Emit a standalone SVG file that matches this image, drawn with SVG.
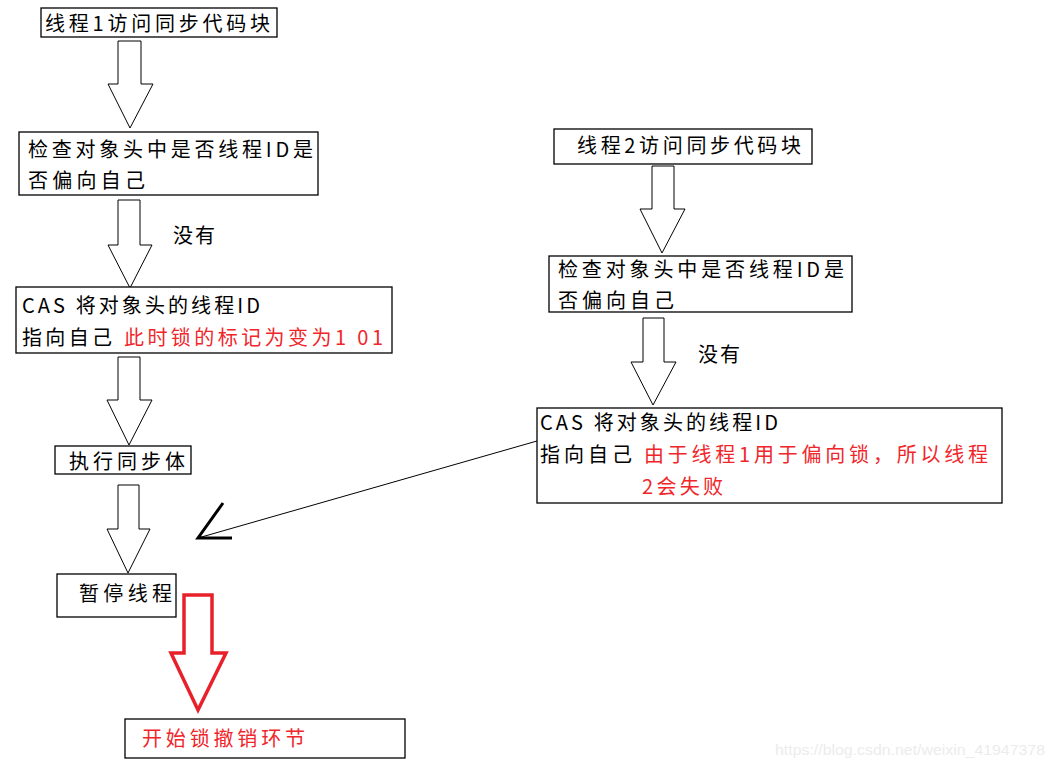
<svg xmlns="http://www.w3.org/2000/svg" width="1055" height="769" viewBox="0 0 1055 769">
<style>
.box{fill:#fff;stroke:#000;stroke-width:1.3}
.t{font-family:"Noto Sans CJK SC","Liberation Sans",sans-serif;font-size:20px;fill:#000}
.r{fill:#f0262b}
.arr{fill:#fff;stroke:#000;stroke-width:1}
.rarr{fill:none;stroke:#e8202a;stroke-width:3.5}
.wm{font-family:"Liberation Sans",Arial,sans-serif;font-size:15px;fill:#ececec}
</style>
<rect width="1055" height="769" fill="#fff"/>
<g id="connectors">
<polygon class="arr" points="118,41 141,41 141,84 153,84 130,128 108,84 118,84"/>
<polygon class="arr" points="118,200 140,200 140,245 152,245 130,288 108,245 118,245"/>
<polygon class="arr" points="118,357 140,357 140,400 152,400 129,445 107,400 118,400"/>
<polygon class="arr" points="118,485 139,485 139,529 150,529 128,573 107,529 118,529"/>
<polygon class="rarr" points="184,595 212,595 212,653 226,653 198,710 171,653 184,653"/>
<polygon class="arr" points="652,166 674,166 674,209 685,209 662,253 640,209 652,209"/>
<polygon class="arr" points="643,318 664,318 664,362 676,362 653,405 631,362 643,362"/>
<line x1="537" y1="441" x2="198" y2="538" stroke="#000" stroke-width="1"/>
<polyline points="223,503 198,538 232,538" fill="none" stroke="#000" stroke-width="3"/>
</g>
<g id="n1"><rect class="box" x="41" y="8" width="236" height="29"/>
<text class="t" x="45" y="31" textLength="225" lengthAdjust="spacing">线程1访问同步代码块</text></g>
<g id="n2"><rect class="box" x="19" y="132" width="299" height="63"/>
<text class="t" x="28" y="157" textLength="285" lengthAdjust="spacing">检查对象头中是否线程ID是</text>
<text class="t" x="28" y="188" textLength="117" lengthAdjust="spacing">否偏向自己</text></g>
<g id="l1"><text class="t" x="173" y="243" textLength="42" lengthAdjust="spacing">没有</text></g>
<g id="n3"><rect class="box" x="16" y="287" width="376" height="66"/>
<text class="t" x="22" y="313" textLength="238" lengthAdjust="spacing">CAS 将对象头的线程ID</text>
<text class="t" x="22" y="345" textLength="90" lengthAdjust="spacing">指向自己</text>
<text class="t r" x="124" y="345" textLength="259" lengthAdjust="spacing">此时锁的标记为变为1 01</text></g>
<g id="n4"><rect class="box" x="55" y="446" width="136" height="28"/>
<text class="t" x="69" y="469" textLength="116" lengthAdjust="spacing">执行同步体</text></g>
<g id="n5"><rect class="box" x="57" y="574" width="119" height="43"/>
<text class="t" x="79" y="601" textLength="93" lengthAdjust="spacing">暂停线程</text></g>
<g id="n6"><rect class="box" x="125" y="719" width="280" height="39"/>
<text class="t r" x="142" y="746" textLength="163" lengthAdjust="spacing">开始锁撤销环节</text></g>
<g id="m1"><rect class="box" x="554" y="129" width="258" height="35"/>
<text class="t" x="577" y="153" textLength="224" lengthAdjust="spacing">线程2访问同步代码块</text></g>
<g id="m2"><rect class="box" x="549" y="256" width="303" height="56"/>
<text class="t" x="558" y="277" textLength="286" lengthAdjust="spacing">检查对象头中是否线程ID是</text>
<text class="t" x="558" y="308" textLength="116" lengthAdjust="spacing">否偏向自己</text></g>
<g id="l2"><text class="t" x="698" y="362" textLength="42" lengthAdjust="spacing">没有</text></g>
<g id="m3"><rect class="box" x="537" y="408" width="465" height="95"/>
<text class="t" x="540" y="430" textLength="238" lengthAdjust="spacing">CAS 将对象头的线程ID</text>
<text class="t" x="540" y="462" textLength="92" lengthAdjust="spacing">指向自己</text>
<text class="t r" x="644" y="462" textLength="344" lengthAdjust="spacing">由于线程1用于偏向锁，所以线程</text>
<text class="t r" x="642" y="494" textLength="81" lengthAdjust="spacing">2会失败</text></g>
<text class="wm" x="775" y="755" textLength="270" lengthAdjust="spacingAndGlyphs">https://blog.csdn.net/weixin_41947378</text>
</svg>
